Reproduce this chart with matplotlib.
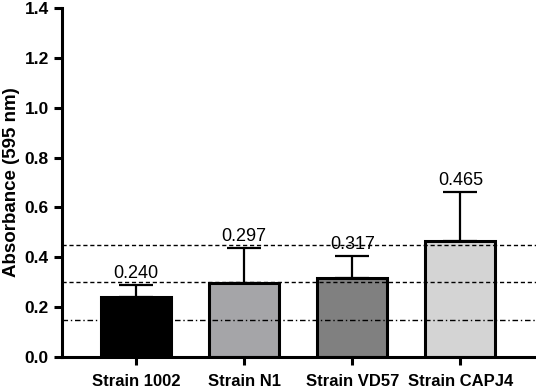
import matplotlib
matplotlib.use("Agg")
import matplotlib.pyplot as plt

categories = ["Strain 1002", "Strain N1", "Strain VD57", "Strain CAPJ4"]
means = [0.240, 0.297, 0.317, 0.465]
errors = [0.049, 0.141, 0.089, 0.197]
labels = ["0.240", "0.297", "0.317", "0.465"]
colors = ["#000000", "#a5a5a8", "#808080", "#d4d4d4"]
ref_dashed = [0.45, 0.30]
ref_dashdot = [0.15]
yticks = [0.0, 0.2, 0.4, 0.6, 0.8, 1.0, 1.2, 1.4]

plt.rcParams['font.family'] = ['Liberation Sans', 'DejaVu Sans']

fig = plt.figure(figsize=(5.36, 3.88), dpi=100)
ax = fig.add_axes([62/536, 31/388, 1 - 62/536, (357 - 8)/388])

x = list(range(len(categories)))
ax.bar(x, means, width=0.65, color=colors, edgecolor="black", linewidth=2.2, zorder=2)
ax.errorbar(x, means, yerr=[[0]*len(errors), errors], fmt="none", ecolor="black",
            elinewidth=1.6, capsize=12, capthick=1.6, zorder=1)
for xi, m, e, lab in zip(x, means, errors, labels):
    ax.text(xi, m + e + 0.012, lab, ha="center", va="bottom", fontsize=13)

for y in ref_dashed:
    ax.axhline(y, color="black", linestyle=(0, (3, 2)), linewidth=1.0, zorder=3)
for y in ref_dashdot:
    ax.axhline(y, color="black", linestyle=(0, (4, 2, 1, 2)), linewidth=1.0, zorder=3)

ax.set_xlim(-0.685, 3.70)
ax.set_ylim(0, 1.4)
ax.set_yticks(yticks)
ax.set_yticklabels([f"{t:.1f}" for t in yticks], fontweight="bold", fontsize=12.5)
ax.set_xticks(x)
ax.set_xticklabels(categories, fontweight="bold", fontsize=12)
ax.set_ylabel("Absorbance (595 nm)", fontweight="bold", fontsize=13.5, labelpad=3)

for s in ["top", "right"]:
    ax.spines[s].set_visible(False)
for s in ["left", "bottom"]:
    ax.spines[s].set_linewidth(2.2)
ax.tick_params(axis="both", width=2.2, length=6, direction="out")
ax.tick_params(axis="x", pad=6)

fig.savefig("out.png", dpi=100)
